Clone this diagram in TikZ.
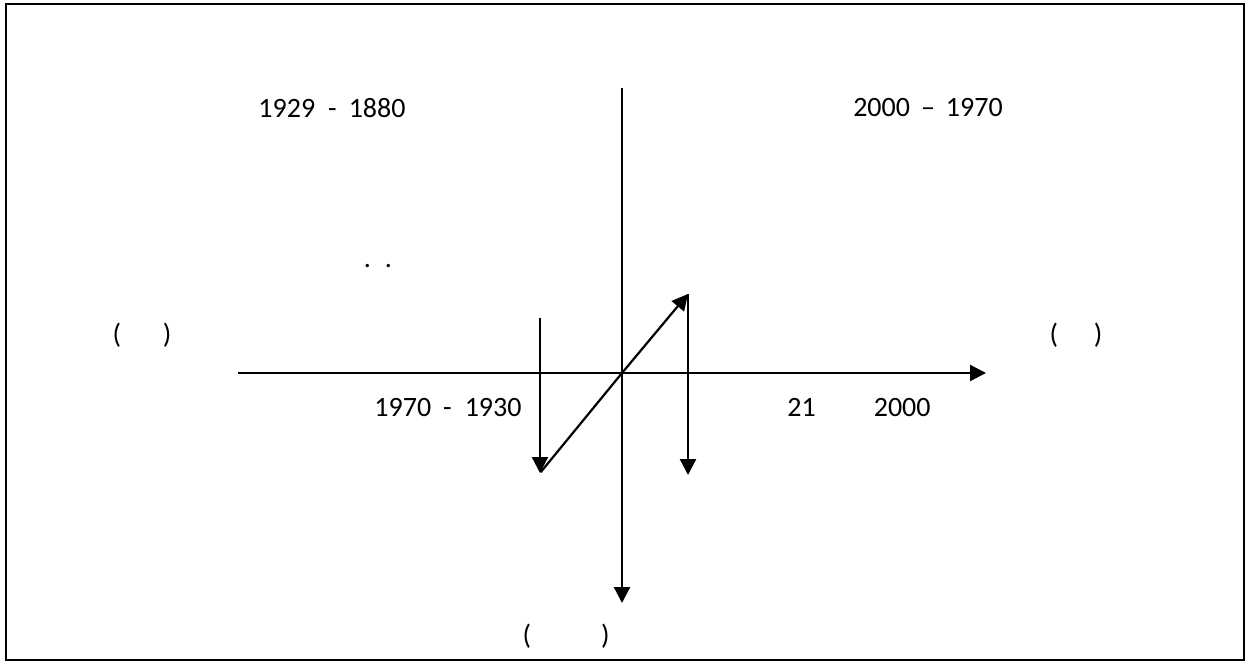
\documentclass[tikz,border=0pt]{standalone}
\usepackage{fontspec}
\setmainfont{Carlito}
\usetikzlibrary{arrows.meta}

\begin{document}
\begin{tikzpicture}[
  x=1pt, y=-1pt,
  axisline/.style={line width=2.2pt, -{Triangle[length=16pt,width=16pt]}},
  txt/.style={inner sep=0pt, font=\fontsize{28}{34}\selectfont}
]
  \useasboundingbox (0,0) rectangle (1246,662);
  \draw[line width=2.2pt] (6,4) rectangle (1244,660);

  % axes
  \coordinate (O) at (622,373);
  \coordinate (Xleft) at (238,373);
  \coordinate (Xright) at (986,373);
  \coordinate (Ytop) at (622,88);
  \coordinate (Ybot) at (622,603);
  \draw[axisline] (Xleft) -- (Xright);
  \draw[axisline] (Ytop) -- (Ybot);

  % swing arrows
  \coordinate (Ltop) at (540,318);
  \coordinate (Lbot) at (540,473);
  \coordinate (Rtop) at (688,294);
  \coordinate (Rbot) at (688,475);
  \draw[axisline] (Ltop) -- (Lbot);
  \draw[axisline] (Rtop) -- (Rbot);
  \draw[axisline, shorten <=1pt] (Lbot) -- (O) -- (Rtop);

  % labels
  \node[txt] (TopLeft) at (332,108) {1929\hspace{13pt}-\hspace{12pt}1880};
  \node[txt] (TopRight) at (928,108) {2000\hspace{11pt}--\hspace{11pt}1970};
  \node[txt] (Dots) at (378,266) {.\hspace{14pt}.};
  \node[txt] (LeftPar) at (142,335) {(\hspace{42pt})};
  \node[txt] (RightPar) at (1076,335) {(\hspace{36pt})};
  \node[txt] (LowLeft) at (448,408) {1970\hspace{12pt}-\hspace{13pt}1930};
  \node[txt] (LowRight) at (859,408) {21\hspace{58pt}2000};
  \node[txt] (BotPar) at (566,636) {(\hspace{70pt})};
\end{tikzpicture}
\end{document}
